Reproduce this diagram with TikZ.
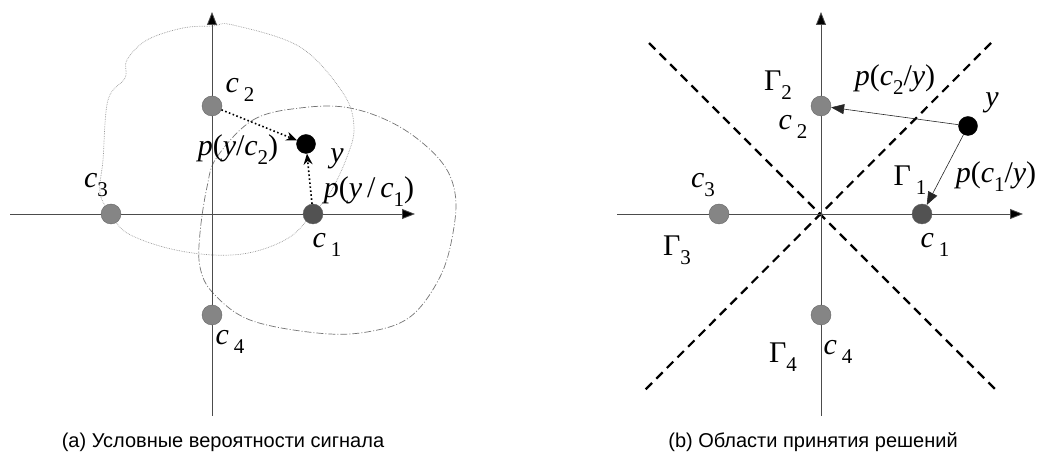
\documentclass[tikz,border=0pt]{standalone}
\usepackage{fontspec}
\setmainfont{Liberation Serif}
\setsansfont{Liberation Sans}
\usetikzlibrary{arrows.meta}
\newcommand{\sub}[1]{\raisebox{-9pt}{\fontsize{21}{22}\selectfont #1}}
\newcommand{\vi}[1]{\textit{#1}}

\begin{document}
\begin{tikzpicture}[x=1pt,y=1pt,
  sig/.style={circle, draw=black!60, fill=black!48, minimum size=20pt, inner sep=0pt},
  sigone/.style={sig, fill=black!68},
  obs/.style={circle, draw=black, fill=black, minimum size=19pt, inner sep=0pt},
  axe/.style={draw=black!70, line width=0.8pt, -{Triangle[length=13pt,width=10pt,fill=black]}},
  lab/.style={font=\fontsize{30}{32}\selectfont, inner sep=0pt},
  legende/.style={font=\sffamily\fontsize{20}{23}\selectfont},
  vrais/.style={dash pattern=on 1.6pt off 2.4pt, line width=1.6pt, -{Stealth[length=11pt,width=9pt]}},
  apost/.style={black!85, line width=0.6pt, -{Triangle[length=13pt,width=10pt]}},
  zone/.style={line width=2.2pt, dash pattern=on 9pt off 6pt},
  nuage/.style={black!40, line width=0.7pt, densely dotted},
  nuageb/.style={black!55, line width=0.7pt, dash pattern=on 7pt off 2pt on 1pt off 2pt}]
  \useasboundingbox (0,0) rectangle (1037,455);
  % (a) conditional densities
  \begin{scope}[shift={(212,241)}]
    \draw[nuage] plot[smooth cycle, tension=0.6] coordinates {(1,188) (21,189) (88,167) (131,121) (142,87) (135,57) (118,21) (101,1) (78,-23) (41,-38) (1,-41) (-45,-34) (-85,-19) (-101,0) (-112,21) (-109,54) (-104,114) (-87,136) (-85,154) (-65,174) (-29,186)};
    \draw[nuageb] plot[smooth cycle, tension=0.6] coordinates {(5,57) (41,94) (88,106) (138,106) (188,87) (228,54) (243,21) (241,-19) (228,-63) (198,-103) (155,-118) (105,-119) (38,-106) (1,-79) (-12,-53) (-12,-19) (-5,27)};
    \draw[axe] (-202,0) -- (203,0);
    \draw[axe] (0,-202) -- (0,202);
    \node[sigone] (c1a) at (101,0) {};
    \node[sig] (c2a) at (0,108) {};
    \node[sig] (c3a) at (-101,0) {};
    \node[sig] (c4a) at (0,-101) {};
    \node[obs] (ya) at (94,70) {};
    \draw[vrais] (c2a) -- (ya);
    \draw[vrais] (c1a) -- (ya);
    \node[lab] at (28,124) {\vi{c}\,\sub{2}};
    \node[lab] at (-116,29) {\vi{c}\sub{3}};
    \node[lab] at (115,-31) {\vi{c}\,\sub{1}};
    \node[lab] at (18,-128) {\vi{c}\,\sub{4}};
    \node[lab] at (26,64) {\vi{p}(\vi{y}/\vi{c}\sub{2})};
    \node[lab] at (125,55) {\vi{y}};
    \node[lab] at (157,22) {\vi{p}(\vi{y}\,/\,\vi{c}\sub{1})};
  \end{scope}
  % (b) decision regions
  \begin{scope}[shift={(821,241)}]
    \draw[zone] (-172,171) -- (176,-177);
    \draw[zone] (170,171) -- (-177,-177);
    \draw[axe] (-204,0) -- (202,0);
    \draw[axe] (0,-202) -- (0,202);
    \node[sigone] (c1b) at (101,0) {};
    \node[sig] (c2b) at (0,108) {};
    \node[sig] (c3b) at (-102,0) {};
    \node[sig] (c4b) at (0,-101) {};
    \node[obs] (yb) at (147,88) {};
    \draw[apost] (yb) -- (c2b);
    \draw[apost] (yb) -- (c1b);
    \node[lab] at (-43,129) {Γ\sub{2}};
    \node[lab] at (74,134) {\vi{p}(\vi{c}\sub{2}/\vi{y})};
    \node[lab] at (-28,87) {\vi{c}\,\sub{2}};
    \node[lab] at (171,111) {\vi{y}};
    \node[lab] at (89,34) {Γ\,\sub{1}};
    \node[lab] at (175,37) {\vi{p}(\vi{c}\sub{1}/\vi{y})};
    \node[lab] at (-118,29) {\vi{c}\sub{3}};
    \node[lab] at (-144,-36) {Γ\sub{3}};
    \node[lab] at (114,-31) {\vi{c}\,\sub{1}};
    \node[lab] at (-38,-143) {Γ\sub{4}};
    \node[lab] at (17,-138) {\vi{c}\,\sub{4}};
  \end{scope}
  % captions
  \node[legende] (capa) at (223,13) {(a) Условные вероятности сигнала};
  \node[legende] (capb) at (813,13) {(b) Области принятия решений};
\end{tikzpicture}
\end{document}
